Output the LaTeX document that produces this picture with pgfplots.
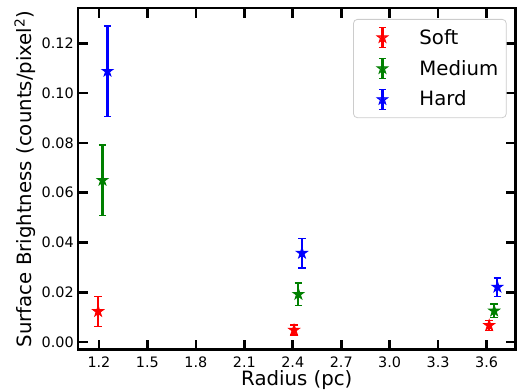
\documentclass[border=0pt]{standalone}
\usepackage{fontspec}
\setmainfont{DejaVu Sans}
\usepackage{pgfplots}
\pgfplotsset{compat=1.18}
\pgfdeclareplotmark{fstar}{%
  \pgfpathmoveto{\pgfpointpolar{90}{\pgfplotmarksize}}%
  \pgfpathlineto{\pgfpointpolar{126}{0.382\pgfplotmarksize}}%
  \pgfpathlineto{\pgfpointpolar{162}{\pgfplotmarksize}}%
  \pgfpathlineto{\pgfpointpolar{198}{0.382\pgfplotmarksize}}%
  \pgfpathlineto{\pgfpointpolar{234}{\pgfplotmarksize}}%
  \pgfpathlineto{\pgfpointpolar{270}{0.382\pgfplotmarksize}}%
  \pgfpathlineto{\pgfpointpolar{306}{\pgfplotmarksize}}%
  \pgfpathlineto{\pgfpointpolar{342}{0.382\pgfplotmarksize}}%
  \pgfpathlineto{\pgfpointpolar{18}{\pgfplotmarksize}}%
  \pgfpathlineto{\pgfpointpolar{54}{0.382\pgfplotmarksize}}%
  \pgfpathclose
  \pgfusepathqfillstroke
}
\definecolor{mgreen}{RGB}{0,128,0}
\begin{document}
\begin{tikzpicture}
\begin{axis}[
  name=ax,
  scale only axis,
  width=328.5pt, height=256.5pt,
  xmin=1.07, xmax=3.78,
  ymin=-0.0031, ymax=0.1342,
  xtick={1.2,1.5,1.8,2.1,2.4,2.7,3.0,3.3,3.6},
  ytick={0,0.02,0.04,0.06,0.08,0.10,0.12},
  xticklabel style={/pgf/number format/.cd,fixed,fixed zerofill,precision=1,/tikz/.cd,
    inner sep=0pt, anchor=north, yshift=-5pt},
  yticklabel style={/pgf/number format/.cd,fixed,fixed zerofill,precision=2,/tikz/.cd,
    inner sep=0pt, anchor=east, xshift=-3pt},
  scaled y ticks=false,
  /pgf/number format/assume math mode=true,
  tick label style={font=\fontsize{10.8}{13}\selectfont},
  label style={font=\fontsize{14.8}{17}\selectfont},
  xlabel={Radius (pc)},
  ylabel={Surface Brightness (counts/pixel\textsuperscript{2})},
  xlabel style={at={(rel axis cs:0.5,0)}, anchor=base, inner sep=0pt, yshift=-27pt},
  ylabel style={at={([xshift=-48pt]rel axis cs:0,0.5)}, anchor=north, inner sep=0pt},
  axis line style={line width=2pt},
  tick style={line width=2pt, black},
  major tick length=7.5pt,
  tick align=inside,
  xtick pos=both, ytick pos=both,
  minor tick num=0,
  legend style={at={(axis description cs:1,1)}, anchor=north east,
    xshift=-6.75pt, yshift=-8.25pt,
    font=\fontsize{14.8}{17}\selectfont, draw=black!20, line width=0.6pt, rounded corners=3pt,
    fill=white, fill opacity=0.8, text opacity=1,
    row sep=0pt, inner xsep=4pt, inner ysep=2.1pt},
  legend cell align=left,
  legend image code/.code={
    \path[draw=none, fill=none] (0pt,-11.6pt) rectangle (43.5pt,11.6pt);
    \draw[#1, mark=none, line width=1.6pt] (17.75pt,-7.5pt) -- (17.75pt,7.5pt);
    \draw[#1, mark=none, line width=1.1pt] (15pt,-7.5pt) -- (20.5pt,-7.5pt);
    \draw[#1, mark=none, line width=1.1pt] (15pt,7.5pt) -- (20.5pt,7.5pt);
    \path[#1, draw=none, fill=none] plot[mark=fstar, mark size=4.2pt, mark options={line width=0.7pt}] coordinates {(17.75pt,0pt)};
  },
  every axis plot/.append style={only marks, mark=fstar, mark size=4.2pt, line width=1.6pt,
    error bars/y dir=both, error bars/y explicit,
    error bars/error bar style={line width=1.6pt, solid},
    error bars/error mark options={rotate=90, mark size=2.8pt, line width=1.1pt}},
]
\addplot[red, mark options={fill=red, draw=red, line width=0.7pt}] coordinates {
  (1.195,0.0123) +- (0,0.0060)
  (2.408,0.0048) +- (0,0.0020)
  (3.616,0.0067) +- (0,0.0020)
};
\addlegendentry{Soft}
\addplot[mgreen, mark options={fill=mgreen, draw=mgreen, line width=0.7pt}] coordinates {
  (1.222,0.0650) +- (0,0.0142)
  (2.435,0.0192) +- (0,0.0046)
  (3.647,0.0125) +- (0,0.0027)
};
\addlegendentry{Medium}
\addplot[blue, mark options={fill=blue, draw=blue, line width=0.7pt}] coordinates {
  (1.253,0.1088) +- (0,0.0182)
  (2.457,0.0357) +- (0,0.0060)
  (3.667,0.0221) +- (0,0.0037)
};
\addlegendentry{Hard}
\end{axis}
\path ([xshift=-58.5pt,yshift=-30.75pt]ax.south west) rectangle ([xshift=1pt,yshift=6pt]ax.north east);
\end{tikzpicture}
\end{document}
